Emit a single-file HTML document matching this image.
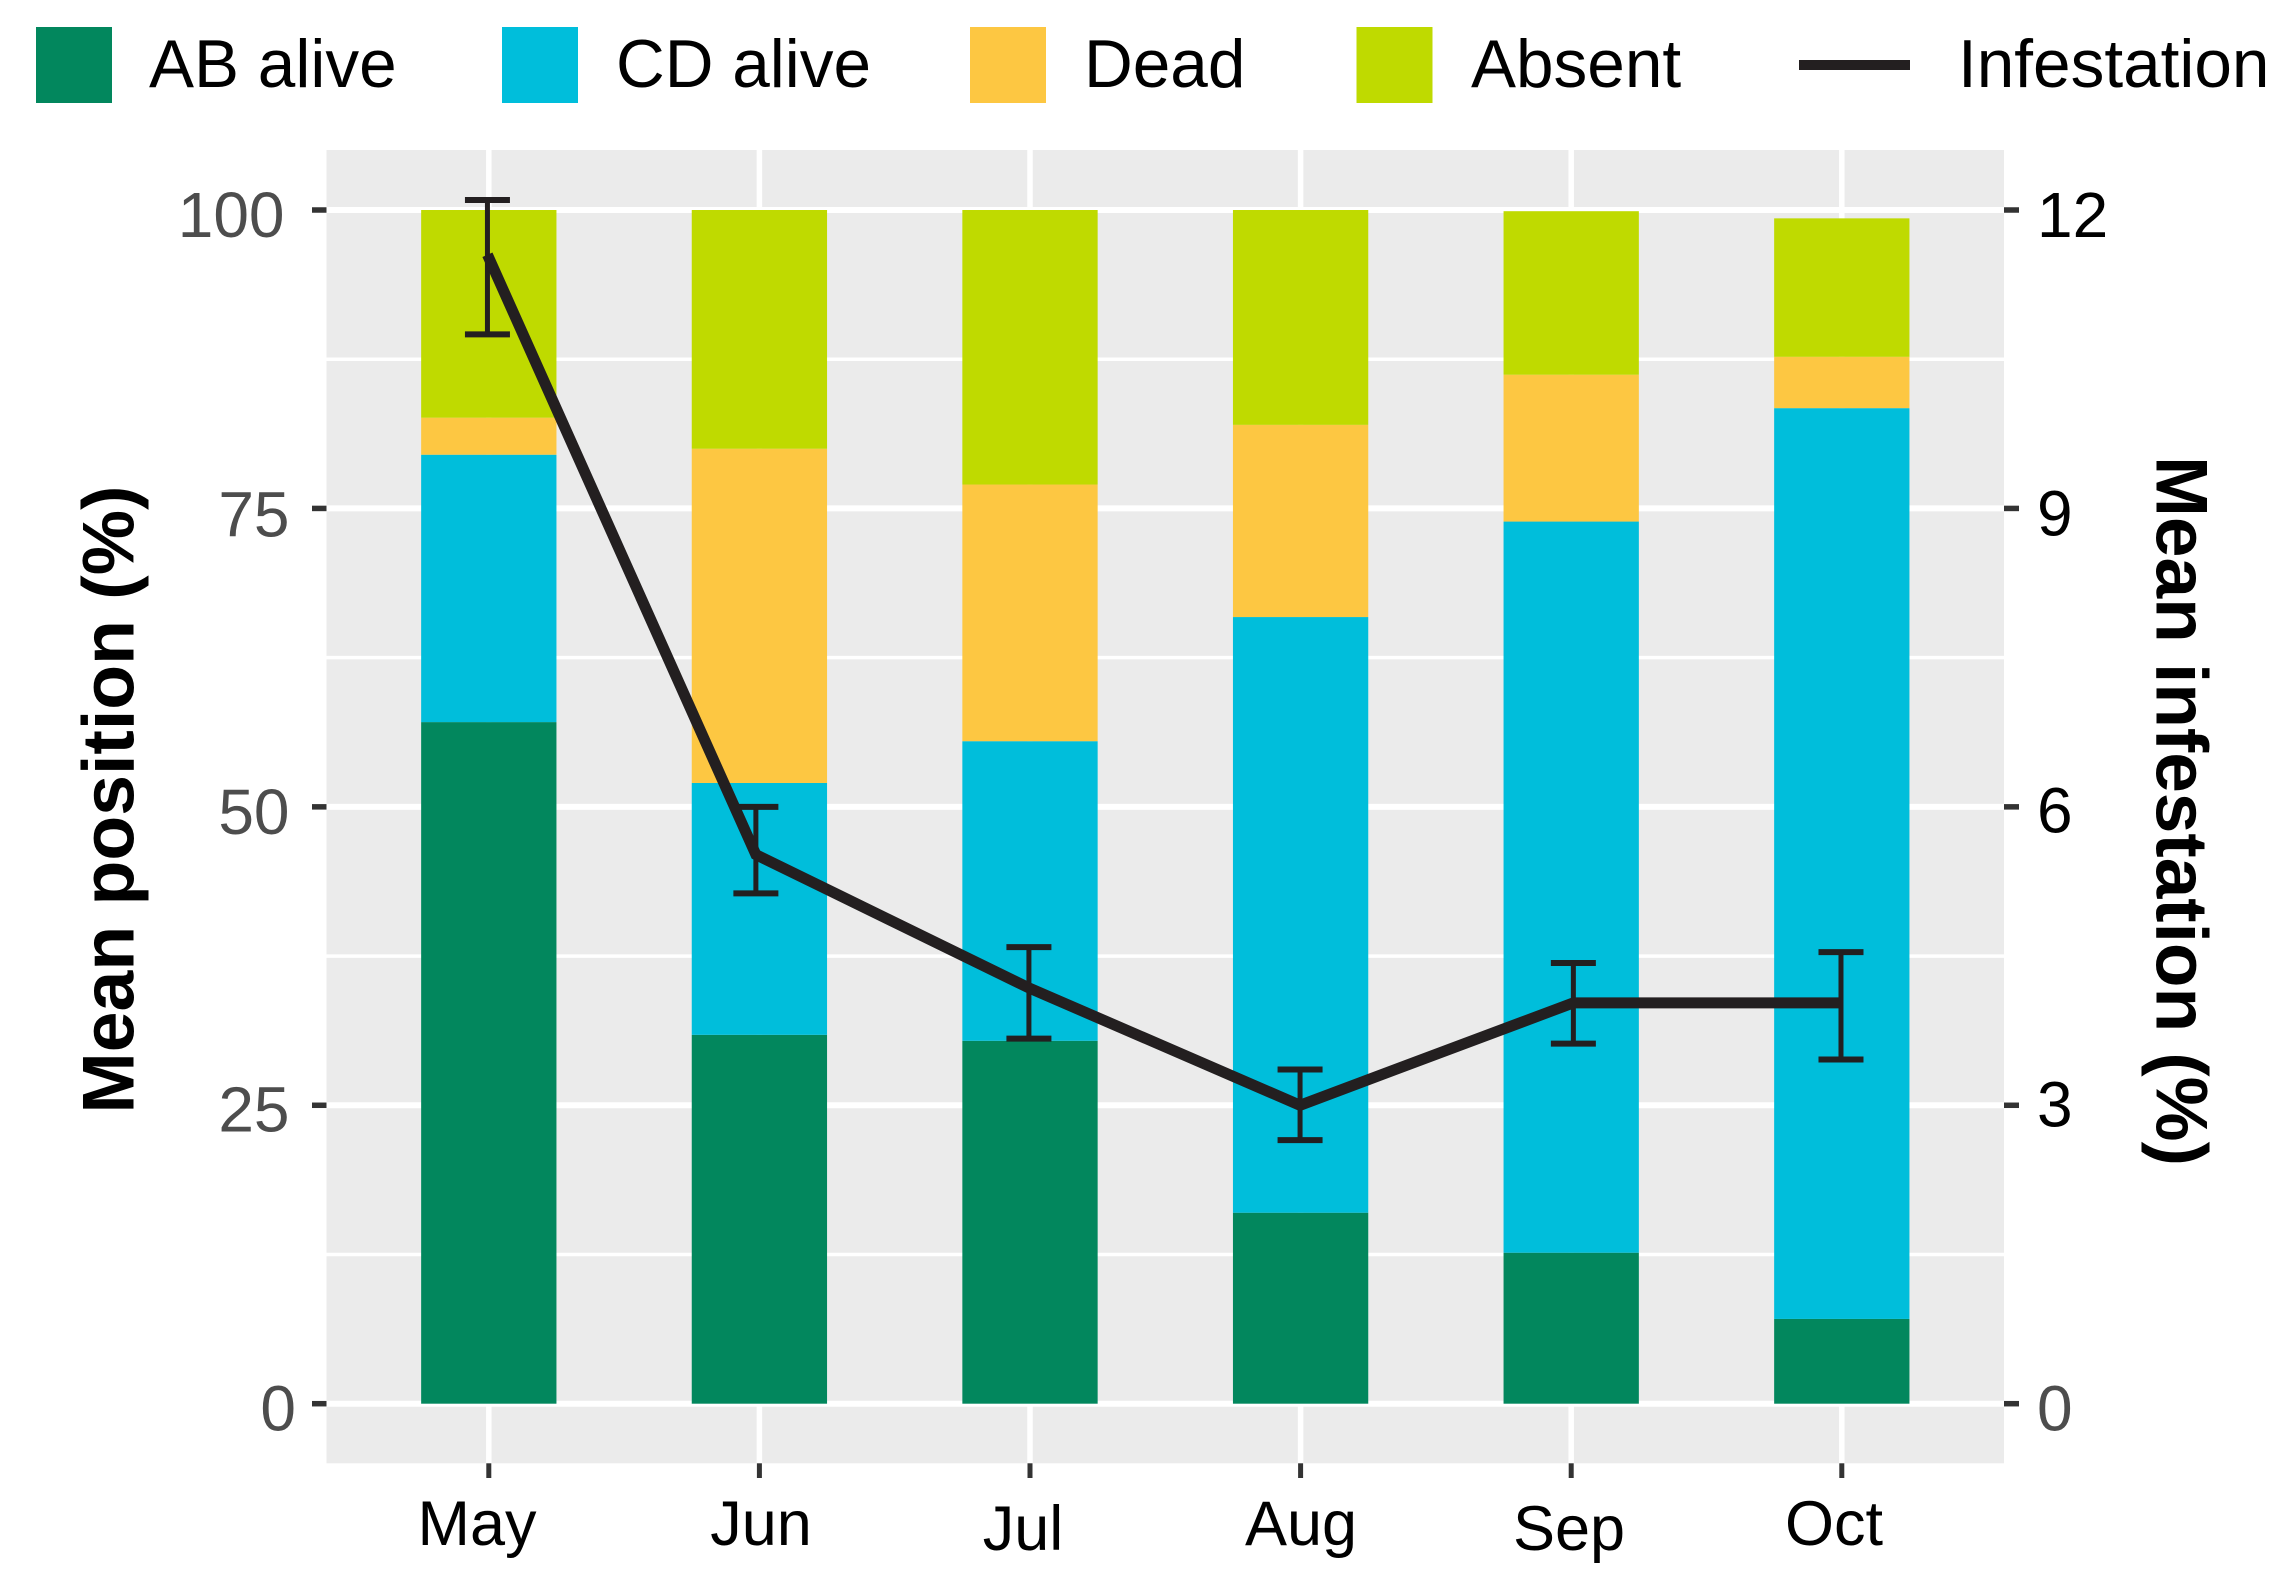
<!DOCTYPE html>
<html lang="en">
<head>
<meta charset="utf-8">
<title>Mean position and infestation by month</title>
<style>
html,body{margin:0;padding:0;background:#fff;}
svg{display:block;font-family:"Liberation Sans",Arial,sans-serif;}
</style>
</head>
<body>
<svg id="chart" xmlns="http://www.w3.org/2000/svg" width="2292" height="1573" viewBox="0 0 2292 1573">
  <g font-size="67.5" fill="#000">
    <g>
      <rect x="36" y="27" width="76" height="76" fill="#02875d"/>
      <text x="149" y="87">AB alive</text>
    </g>
    <g>
      <rect x="502" y="27" width="76" height="76" fill="#00bedb"/>
      <text x="616" y="87">CD alive</text>
    </g>
    <g>
      <rect x="970" y="27" width="76" height="76" fill="#fdc742"/>
      <text x="1084" y="87">Dead</text>
    </g>
    <g>
      <rect x="1356.5" y="27" width="76" height="76" fill="#bfda00"/>
      <text x="1471" y="87">Absent</text>
    </g>
    <g>
      <rect x="1799" y="60" width="111" height="10" fill="#231f20"/>
      <text x="1958" y="87">Infestation</text>
    </g>
  </g>

  <rect x="326.5" y="150" width="1677.5" height="1313.3" fill="#ebebeb"/>
  <g id="grid"></g>
  <g id="bars"></g>
  <g id="errors"></g>
  <g id="line"></g>
  <g id="axes"></g>

  <g font-size="63" fill="#000" text-anchor="middle">
    <text x="477" y="1545">May</text>
    <text x="761" y="1545">Jun</text>
    <text x="1023" y="1550">Jul</text>
    <text x="1301" y="1545">Aug</text>
    <text x="1569" y="1550">Sep</text>
    <text x="1834" y="1545">Oct</text>
  </g>

  <text transform="translate(133.3 799.5) rotate(-90)" text-anchor="middle" font-size="73.4" font-weight="700" fill="#000">Mean position (%)</text>
  <text transform="translate(2156.7 811) rotate(90)" text-anchor="middle" font-size="73" font-weight="700" fill="#000">Mean infestation (%)</text>
</svg>

<script>
const months = ["May", "Jun", "Jul", "Aug", "Sep", "Oct"];
const abAlive = [57.1, 30.9, 30.4, 16.0, 12.65, 7.1];
const cdAlive = [22.4, 21.1, 25.1, 49.9, 61.25, 76.3];
const deadShare = [3.1, 28.0, 21.5, 16.1, 12.3, 4.3];
const absentShare = [17.4, 20.0, 23.0, 18.0, 13.7, 11.6];
const infestation = [11.55, 5.52, 4.18, 3.0, 4.03, 4.03];
const infestationLow = [10.75, 5.13, 3.67, 2.65, 3.62, 3.46];
const infestationHigh = [12.10, 6.0, 4.59, 3.36, 4.43, 4.54];
const infestationMonth = [0.995, 1.987, 2.996, 3.998, 5.008, 5.997];
const leftTicks = [0, 25, 50, 75, 100];
const leftMinor = [12.5, 37.5, 62.5, 87.5];
const rightTicks = [0, 3, 6, 9, 12];

const NS = "http://www.w3.org/2000/svg";
const PANEL = { left: 326.5, right: 2004, top: 150, bottom: 1463.3 };
const yLeft = v => 1403.7 - v * 11.937;
const yRight = v => 1403.7 - v * 99.475;
const xCat = c => 488.8 + (c - 1) * 270.6;
const BAR_WIDTH = 0.5;

function make(tag, attrs, parent) {
  const el = document.createElementNS(NS, tag);
  for (const k in attrs) el.setAttribute(k, attrs[k]);
  parent.appendChild(el);
  return el;
}

function leftLabelAnchor(v) {
  if (v === 0) return 296;
  if (v === 100) return 284.5;
  return 289.5;
}
function leftLabelDrop(v) {
  if (v === 75) return 28;
  if (v === 25) return 26;
  return 27;
}
function rightLabelDrop(v) {
  if (v === 3) return 21;
  if (v === 6) return 25.5;
  return 27;
}

const grid = document.getElementById("grid");
const bars = document.getElementById("bars");
const errors = document.getElementById("errors");
const lineLayer = document.getElementById("line");
const axes = document.getElementById("axes");

leftMinor.forEach(v => {
  const el = make("line", { x1: PANEL.left, x2: PANEL.right, y1: yLeft(v), y2: yLeft(v), stroke: "#fff", "stroke-width": 3.5 }, grid);
  
  
});
leftTicks.forEach(v => {
  const el = make("line", { x1: PANEL.left, x2: PANEL.right, y1: yLeft(v), y2: yLeft(v), stroke: "#fff", "stroke-width": 6 }, grid);
  
  
});
months.forEach((m, i) => {
  const x = xCat(i + 1);
  const el = make("line", { x1: x, x2: x, y1: PANEL.top, y2: PANEL.bottom, stroke: "#fff", "stroke-width": 5.5 }, grid);
  
  
});

const stackSeries = [
  { key: "ab-alive", values: abAlive, color: "#02875d" },
  { key: "cd-alive", values: cdAlive, color: "#00bedb" },
  { key: "dead", values: deadShare, color: "#fdc742" },
  { key: "absent", values: absentShare, color: "#bfda00" }
];
const barPx = xCat(1 + BAR_WIDTH) - xCat(1);
months.forEach((m, i) => {
  let base = 0;
  stackSeries.forEach(s => {
    const top = base + s.values[i];
    const el = make("rect", {
      x: xCat(i + 1) - barPx / 2,
      y: yLeft(top),
      width: barPx,
      height: yLeft(base) - yLeft(top),
      fill: s.color
    }, bars);
    
    
    base = top;
  });
});

months.forEach((m, i) => {
  const x = xCat(infestationMonth[i]);
  const hi = yRight(infestationHigh[i]);
  const lo = yRight(infestationLow[i]);
  const g = make("g", { stroke: "#231f20", "stroke-width": 5, fill: "none" }, errors);
  
  
  make("line", { x1: x, x2: x, y1: hi, y2: lo }, g);
  make("line", { x1: x - 22.5, x2: x + 22.5, y1: hi, y2: hi, "stroke-width": 6 }, g);
  make("line", { x1: x - 22.5, x2: x + 22.5, y1: lo, y2: lo, "stroke-width": 6 }, g);
});

const linePoints = infestation.map((v, i) => xCat(infestationMonth[i]) + "," + yRight(v)).join(" ");
const infestationLine = make("polyline", {
  points: linePoints, fill: "none", stroke: "#231f20", "stroke-width": 11, "stroke-linejoin": "miter"
}, lineLayer);



leftTicks.forEach(v => {
  const y = yLeft(v);
  const tick = make("line", { x1: 312, x2: PANEL.left, y1: y, y2: y, stroke: "#333", "stroke-width": 5.5 }, axes);
  
  
  const label = make("text", { x: leftLabelAnchor(v), y: y + leftLabelDrop(v), "text-anchor": "end", "font-size": 64, fill: "#4d4d4d" }, axes);
  
  
  label.textContent = v;
});
rightTicks.forEach(v => {
  const y = yRight(v);
  const tick = make("line", { x1: PANEL.right, x2: 2019, y1: y, y2: y, stroke: "#333", "stroke-width": 5.5 }, axes);
  
  
  const label = make("text", { x: 2037, y: y + rightLabelDrop(v), "font-size": 64, fill: v === 0 ? "#4d4d4d" : "#000" }, axes);
  
  
  label.textContent = v;
});
months.forEach((m, i) => {
  const x = xCat(i + 1);
  const tick = make("line", { x1: x, x2: x, y1: PANEL.bottom, y2: 1478, stroke: "#333", "stroke-width": 5 }, axes);
  
  
});
</script>
</body>
</html>
